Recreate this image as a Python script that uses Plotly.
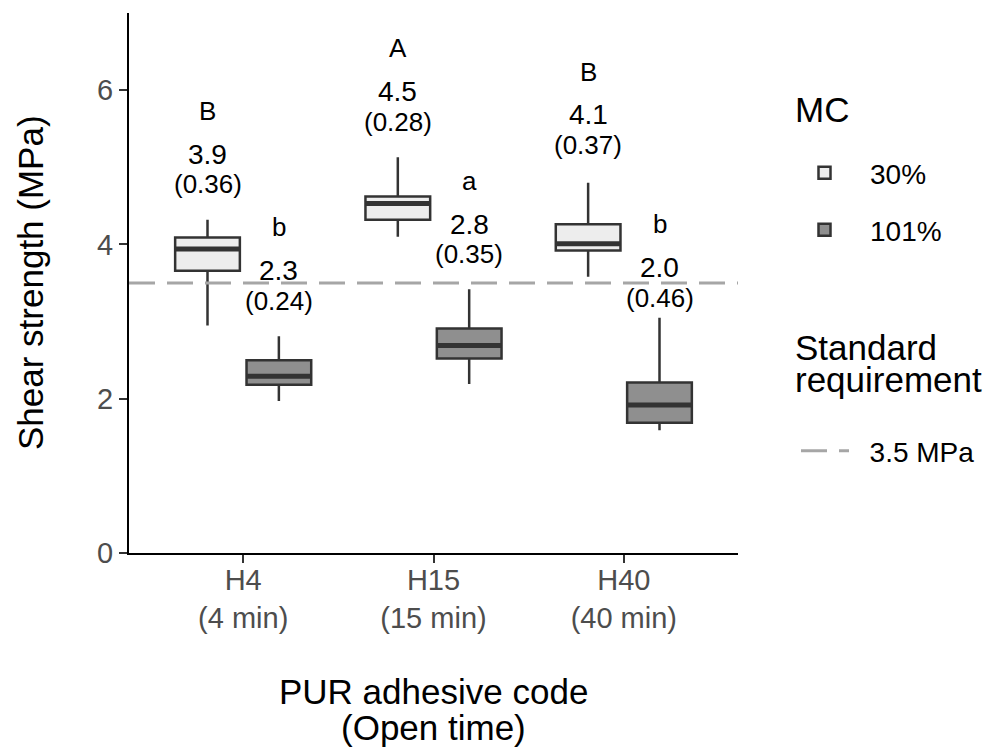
import plotly.graph_objects as go

# ---------------- data ----------------
categories = ["H4", "H15", "H40"]
open_time = ["4 min", "15 min", "40 min"]
mc_levels = ["30%", "101%"]

# box statistics, MC 30 %
q1_30 = [3.66, 4.32, 3.92]
med_30 = [3.94, 4.53, 4.01]
q3_30 = [4.09, 4.62, 4.26]
lo_30 = [2.95, 4.10, 3.58]
hi_30 = [4.32, 5.13, 4.80]
# box statistics, MC 101 %
q1_101 = [2.18, 2.52, 1.69]
med_101 = [2.29, 2.69, 1.92]
q3_101 = [2.50, 2.91, 2.21]
lo_101 = [1.97, 2.19, 1.59]
hi_101 = [2.81, 3.42, 3.05]

# mean (sd) and letter groups
mean_30 = [3.9, 4.5, 4.1]
sd_30 = [0.36, 0.28, 0.37]
letters_30 = ["B", "A", "B"]
mean_101 = [2.3, 2.8, 2.0]
sd_101 = [0.24, 0.35, 0.46]
letters_101 = ["b", "a", "b"]
# height (MPa) at which the letter label of each box sits
letter_y_30 = [5.73, 6.54, 6.24]
letter_y_101 = [4.22, 4.82, 4.26]

standard_label = "3.5 MPa"
standard_value = 3.5

# ---------------- styling ----------------
FONT = "Liberation Sans, Arial, sans-serif"
OUTLINE = "#333333"
FILLS = ["#EDEDED", "#8F8F8F"]
DODGE = 0.1875
BOX_W = 0.34
X_RANGE = [0.4, 3.6]
Y_RANGE = [0, 7]

PAGE_OFF = 8                      # default body margin of the html page
W, H = 991 - PAGE_OFF, 748 - PAGE_OFF
PLOT_L, PLOT_R, PLOT_T, PLOT_B = 129, 738, 13, 553   # wanted plot box, in page pixels
L = PLOT_L - PAGE_OFF
T = PLOT_T - PAGE_OFF
PW = PLOT_R - PLOT_L
PH = PLOT_B - PLOT_T
R = W - L - PW
B = H - T - PH


def px_x(px):
    """page pixel x -> paper x"""
    return (px - PLOT_L) / PW


def px_y(py):
    """page pixel y -> paper y"""
    return (PLOT_B - py) / PH


fig = go.Figure()

groups = [
    (mc_levels[0], FILLS[0], q1_30, med_30, q3_30, lo_30, hi_30, mean_30, sd_30, letters_30, letter_y_30, -DODGE, "legend"),
    (mc_levels[1], FILLS[1], q1_101, med_101, q3_101, lo_101, hi_101, mean_101, sd_101, letters_101, letter_y_101, DODGE, "legend2"),
]

annotations = []
for name, fill, q1, med, q3, lo, hi, mn, sd, let, ly, off, leg in groups:
    pos = [i + 1 + off for i in range(len(categories))]
    fig.add_trace(go.Box(
        x=pos, q1=q1, median=med, q3=q3, lowerfence=lo, upperfence=hi,
        width=BOX_W, fillcolor=fill, line=dict(color=OUTLINE, width=2.5),
        whiskerwidth=0, boxpoints=False, name=name, legend=leg,
        hoverinfo="skip",
    ))
    # thick median bar (ggplot style)
    mx, my = [], []
    for p, m in zip(pos, med):
        mx += [p - BOX_W / 2, p + BOX_W / 2, None]
        my += [m, m, None]
    fig.add_trace(go.Scatter(x=mx, y=my, mode="lines", line=dict(color=OUTLINE, width=5),
                             showlegend=False, hoverinfo="skip"))
    for p, m, s, l, y in zip(pos, mn, sd, let, ly):
        annotations.append(dict(x=p, y=y, text=l, showarrow=False, xref="x", yref="y",
                                font=dict(size=26, color="black", family=FONT)))
        annotations.append(dict(x=p, y=y - 0.56, text=f"{m:.1f}", showarrow=False, xref="x", yref="y",
                                font=dict(size=28, color="black", family=FONT)))
        annotations.append(dict(x=p, y=y - 0.95, text=f"({s:.2f})", showarrow=False, xref="x", yref="y",
                                font=dict(size=26, color="black", family=FONT)))

# standard requirement line
fig.add_trace(go.Scatter(
    x=X_RANGE, y=[standard_value, standard_value], mode="lines",
    line=dict(color="#A6A6A6", width=3, dash="26px,12px"),
    name="\u00a0\u00a0" + standard_label, legend="legend3", hoverinfo="skip",
))

TITLE_FONT = dict(size=35, color="black", family=FONT)
annotations += [
    dict(x=0.5, y=px_y(691), xref="paper", yref="paper", text="PUR adhesive code", showarrow=False,
         font=TITLE_FONT, xanchor="center", yanchor="middle"),
    dict(x=0.5, y=px_y(727), xref="paper", yref="paper", text="(Open time)", showarrow=False,
         font=TITLE_FONT, xanchor="center", yanchor="middle"),
    dict(x=px_x(30), y=0.5, xref="paper", yref="paper", text="Shear strength (MPa)", showarrow=False,
         textangle=-90, font=TITLE_FONT, xanchor="center", yanchor="middle"),
    # legend titles
    dict(x=px_x(793), y=px_y(110), xref="paper", yref="paper", text="MC", showarrow=False,
         font=TITLE_FONT, xanchor="left", yanchor="middle"),
    dict(x=px_x(793), y=px_y(347), xref="paper", yref="paper", text="Standard", showarrow=False,
         font=TITLE_FONT, xanchor="left", yanchor="middle"),
    dict(x=px_x(793), y=px_y(379), xref="paper", yref="paper", text="requirement", showarrow=False,
         font=TITLE_FONT, xanchor="left", yanchor="middle"),
]

LEG_FONT = dict(size=28, color="black", family=FONT)
box_leg = dict(font=LEG_FONT, bgcolor="rgba(0,0,0,0)", borderwidth=0,
               xanchor="left", yanchor="middle", itemwidth=81, x=px_x(779))
line_leg = dict(font=LEG_FONT, bgcolor="rgba(0,0,0,0)", borderwidth=0,
                xanchor="left", yanchor="middle", itemwidth=48, x=px_x(796))

AX_COMMON = dict(
    tickfont=dict(size=29, color="#4D4D4D", family=FONT),
    showline=True, linecolor="black", linewidth=2,
    ticks="outside", ticklen=8, tickwidth=2, tickcolor="#333333",
    showgrid=False, zeroline=False,
)

fig.update_layout(
    width=W, height=H,
    margin=dict(l=L, r=R, t=T, b=B),
    paper_bgcolor="white", plot_bgcolor="white",
    font=dict(family=FONT),
    boxmode="overlay",
    annotations=annotations,
    legend=dict(**box_leg, y=px_y(173)),
    legend2=dict(**box_leg, y=px_y(230)),
    legend3=dict(**line_leg, y=px_y(451)),
    xaxis=dict(
        range=X_RANGE, tickmode="array", tickvals=[1, 2, 3],
        ticktext=[f"{c}<br>({t})" for c, t in zip(categories, open_time)],
        ticklabelstandoff=-8,
        **AX_COMMON,
    ),
    yaxis=dict(
        range=Y_RANGE, tickmode="array", tickvals=[0, 2, 4, 6],
        **AX_COMMON,
    ),
)

fig.write_html("out.html")
